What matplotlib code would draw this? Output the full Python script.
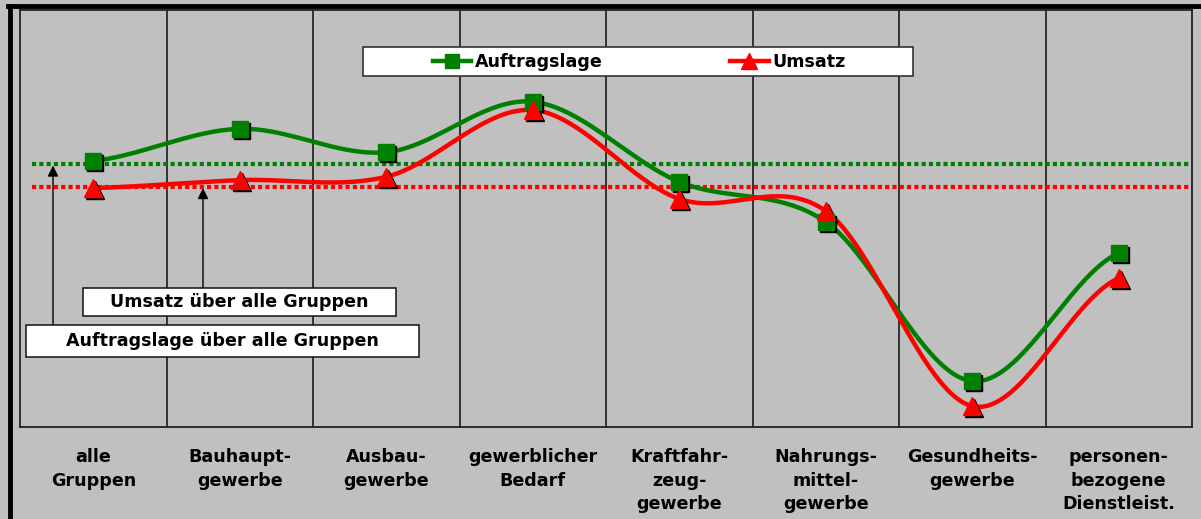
import numpy as np
import matplotlib
matplotlib.use("Agg")
import matplotlib.pyplot as plt
import matplotlib.transforms as mtransforms
from matplotlib.lines import Line2D
from matplotlib.patches import Rectangle

plt.rcParams['font.family'] = ['DejaVu Sans']

# ---------------- data ----------------
categories = ["alle\nGruppen", "Bauhaupt-\ngewerbe", "Ausbau-\ngewerbe",
              "gewerblicher\nBedarf", "Kraftfahr-\nzeug-\ngewerbe",
              "Nahrungs-\nmittel-\ngewerbe", "Gesundheits-\ngewerbe",
              "personen-\nbezogene\nDienstleist."]
auftragslage = [63.8, 71.5, 65.9, 78.0, 58.8, 49.2, 11.0, 41.7]
umsatz = [57.3, 59.2, 60.0, 76.0, 54.7, 51.8, 5.0, 35.7]
avg_auftragslage = 63.0
avg_umsatz = 57.6
series_names = ["Auftragslage", "Umsatz"]

GREEN = "#008000"
RED = "#FF0000"
BG = "#C0C0C0"
FS = 12.6


def catmull_rom(xs, ys, n=40):
    xs = np.asarray(xs, float)
    ys = np.asarray(ys, float)
    px = np.concatenate([[2 * xs[0] - xs[1]], xs, [2 * xs[-1] - xs[-2]]])
    py = np.concatenate([[ys[0]], ys, [ys[-1]]])
    outx, outy = [], []
    for i in range(1, len(px) - 2):
        t = np.linspace(0, 1, n, endpoint=False)
        for arr, out in ((px, outx), (py, outy)):
            p0, p1, p2, p3 = arr[i - 1], arr[i], arr[i + 1], arr[i + 2]
            m1 = (p2 - p0) / 2
            m2 = (p3 - p1) / 2
            h00 = 2 * t**3 - 3 * t**2 + 1
            h10 = t**3 - 2 * t**2 + t
            h01 = -2 * t**3 + 3 * t**2
            h11 = t**3 - t**2
            out.extend(h00 * p1 + h10 * m1 + h01 * p2 + h11 * m2)
    outx.append(xs[-1])
    outy.append(ys[-1])
    return np.array(outx), np.array(outy)


W, H = 1201, 519
fig = plt.figure(figsize=(W / 100, H / 100), dpi=100, facecolor=BG)
ax = fig.add_axes([20 / W, 1 - 427 / H, (1192 - 20) / W, (427 - 10) / H])
ax.set_facecolor(BG)

n = len(categories)
xc = np.arange(n) + 0.5
ax.set_xlim(0, n)
ax.set_ylim(0, 100)

# vertical separators
ax.vlines(np.arange(1, n), 0, 100, color="#1a1a1a", lw=1.2, zorder=1)

# average dotted lines
ax.hlines(avg_auftragslage, 0.08, n, color=GREEN, lw=3, linestyles=(0, (1, 0.75)), zorder=2)
ax.hlines(avg_umsatz, 0.08, n, color=RED, lw=3, linestyles=(0, (1, 0.75)), zorder=2)

shadow = mtransforms.offset_copy(ax.transData, fig=fig, x=2, y=-2, units="dots")

for vals, col, mk, ms in ((auftragslage, GREEN, "s", 11), (umsatz, RED, "^", 13)):
    sx, sy = catmull_rom(xc, vals)
    ax.plot(sx, sy, color=col, lw=3.2, zorder=4, solid_capstyle="round")
    ax.plot(xc, vals, ls="none", marker=mk, ms=ms, color="black", mec="black",
            transform=shadow, zorder=5)
    ax.plot(xc, vals, ls="none", marker=mk, ms=ms, color=col, mec=col, zorder=6)

for sp in ax.spines.values():
    sp.set_color("#222222")
    sp.set_linewidth(1.3)

ax.set_yticks([])
ax.set_xticks(xc)
ax.set_xticklabels(categories, fontsize=FS, fontweight="bold", linespacing=1.41)
ax.tick_params(axis="x", length=0, pad=15)

# legend
fig.patches.append(Rectangle((363 / W, 1 - 76 / H), 550 / W, 29 / H, transform=fig.transFigure,
                             facecolor="white", edgecolor="#333333", lw=1.2, zorder=10))
handles = [Line2D([], [], color=GREEN, lw=3.2, marker="s", ms=10),
           Line2D([], [], color=RED, lw=3.2, marker="^", ms=11)]
leg = fig.legend(handles, series_names, loc="center", bbox_to_anchor=(639 / W, 1 - 62 / H),
                 ncol=2, frameon=False, prop={"weight": "bold", "size": FS},
                 handlelength=2.2, handletextpad=0.2, columnspacing=7.3)
leg.set_zorder(11)

# annotation boxes with arrows
def px2data(px, py):
    return ((px - 20) / (1172 / n), (427 - py) / 4.17)

bx, by = px2data(83, 316)
bx2, by2 = px2data(396, 288)
ax.add_patch(Rectangle((bx, by), bx2 - bx, by2 - by, facecolor="white", edgecolor="#111111",
                       lw=1.1, zorder=7, clip_on=False))
ax.text((bx + bx2) / 2, (by + by2) / 2, "Umsatz über alle Gruppen", ha="center", va="center",
        fontsize=FS, fontweight="bold", zorder=8)

cx, cy = px2data(26, 357)
cx2, cy2 = px2data(419, 325)
ax.add_patch(Rectangle((cx, cy), cx2 - cx, cy2 - cy, facecolor="white", edgecolor="#111111",
                       lw=1.1, zorder=7, clip_on=False))
ax.text((cx + cx2) / 2, (cy + cy2) / 2, "Auftragslage über alle Gruppen", ha="center", va="center",
        fontsize=FS, fontweight="bold", zorder=8)

ax1x, _ = px2data(53, 0)
ax.annotate("", xy=(ax1x, avg_auftragslage - 0.3), xytext=(ax1x, cy2),
            arrowprops=dict(arrowstyle="-|>", color="black", lw=1, mutation_scale=16,
                            shrinkA=0, shrinkB=0), zorder=3)
ax2x, _ = px2data(203, 0)
ax.annotate("", xy=(ax2x, avg_umsatz - 0.3), xytext=(ax2x, by2),
            arrowprops=dict(arrowstyle="-|>", color="black", lw=1, mutation_scale=16,
                            shrinkA=0, shrinkB=0), zorder=3)

# outer black frame (left & top)
fig.add_artist(Line2D([10 / W, 10 / W], [0, 1 - 6 / H], color="black", lw=3.5,
                      transform=fig.transFigure))
fig.add_artist(Line2D([8 / W, 1], [1 - 6 / H, 1 - 6 / H], color="black", lw=3.5,
                      transform=fig.transFigure))

fig.savefig("out.png", dpi=100, facecolor=BG)
